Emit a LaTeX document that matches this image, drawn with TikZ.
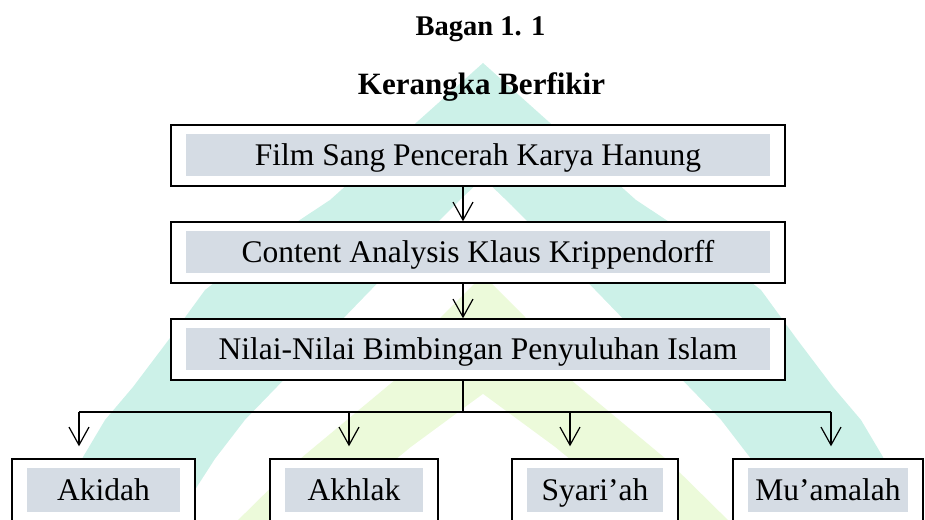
\documentclass[tikz,border=0pt]{standalone}
\usepackage{fontspec}
\setmainfont{Liberation Serif}
\usetikzlibrary{arrows.meta}
\definecolor{abu}{RGB}{213,220,228}
\definecolor{toska}{RGB}{204,241,232}
\definecolor{hijau}{RGB}{236,250,218}
\tikzset{
  kotak/.style={draw, line width=0.7pt, fill=white, inner sep=0pt,
    minimum height=30.5pt, text height=13.4pt, text depth=3.5pt,
    font=\fontsize{15.75}{19}\selectfont,
    path picture={\fill[abu] ([xshift=7.5pt,yshift=-4.5pt]path picture bounding box.north west)
      rectangle ([xshift=-7.5pt,yshift=5pt]path picture bounding box.south east);}},
  panah/.style={line width=0.6pt, -{Straight Barb[length=9pt,width=10pt]}}
}
\begin{document}
\begin{tikzpicture}[x=0.5pt,y=-0.5pt]
\useasboundingbox (0,0) rectangle (925,519);
\fill[toska] (60,530) -- (70,490) -- (83,457) -- (105,420) -- (133,387) -- (170,338) -- (205,290)
	-- (265,243) -- (330,200) -- (417,122) -- (483,63) -- (549,122) -- (636,200) -- (701,243)
	-- (761,290) -- (796,338) -- (833,387) -- (861,420) -- (883,457) -- (896,490) -- (906,530) -- cycle;
\fill[white] (175,530) -- (195,490) -- (215,459) -- (245,420) -- (277,387) -- (371,290) -- (455,205)
	-- (483,178) -- (511,205) -- (595,290) -- (689,387) -- (721,420) -- (751,459) -- (771,490) -- (791,530) -- cycle;
\fill[hijau] (228,530) -- (300,459) -- (395,380) -- (441,317) -- (483,275) -- (525,317) -- (571,380)
	-- (666,459) -- (738,530) -- cycle;
\fill[white] (310,530) -- (411,447) -- (483,394) -- (555,447) -- (656,530) -- cycle;
\node[font=\bfseries\fontsize{14.25}{17}\selectfont, anchor=base] (bagan) at (480.5,36) {Bagan 1. 1};
\node[font=\bfseries\fontsize{15.5}{18}\selectfont, anchor=base] (judul) at (481.5,95) {Kerangka Berfikir};
\node[kotak, minimum width=307pt] (film) at (478,155.5) {Film Sang Pencerah Karya Hanung};
\node[kotak, minimum width=307pt] (content) at (478,252.5) {Content Analysis Klaus Krippendorff};
\node[kotak, minimum width=307pt] (nilai) at (478,349.5) {Nilai-Nilai Bimbingan Penyuluhan Islam};
\foreach \n/\x/\w/\txt in {akidah/103.5/91.5/Akidah, akhlak/354/84/Akhlak, syariah/595/83/Syari’ah, muamalah/828/95/Mu’amalah}
	\node[kotak, minimum width=\w pt, minimum height=31.5pt] (\n) at (\x,490.5) {\txt};
\coordinate (spine) at (463,0);
\coordinate (cabang) at (463,412);
\draw[panah] (film.south -| spine) -- (content.north -| spine);
\draw[panah] (content.south -| spine) -- (nilai.north -| spine);
\draw[line width=0.6pt] (nilai.south -| spine) -- (cabang);
\foreach \n/\x in {akidah/79, akhlak/349, syariah/570, muamalah/831}
	\coordinate (t-\n) at (\x,412);
\draw[line width=0.6pt] (t-akidah) -- (t-muamalah);
\foreach \n in {akidah, akhlak, syariah, muamalah}
	\draw[panah, shorten >=6pt] (t-\n) -- (t-\n |- \n.north);
\end{tikzpicture}
\end{document}
